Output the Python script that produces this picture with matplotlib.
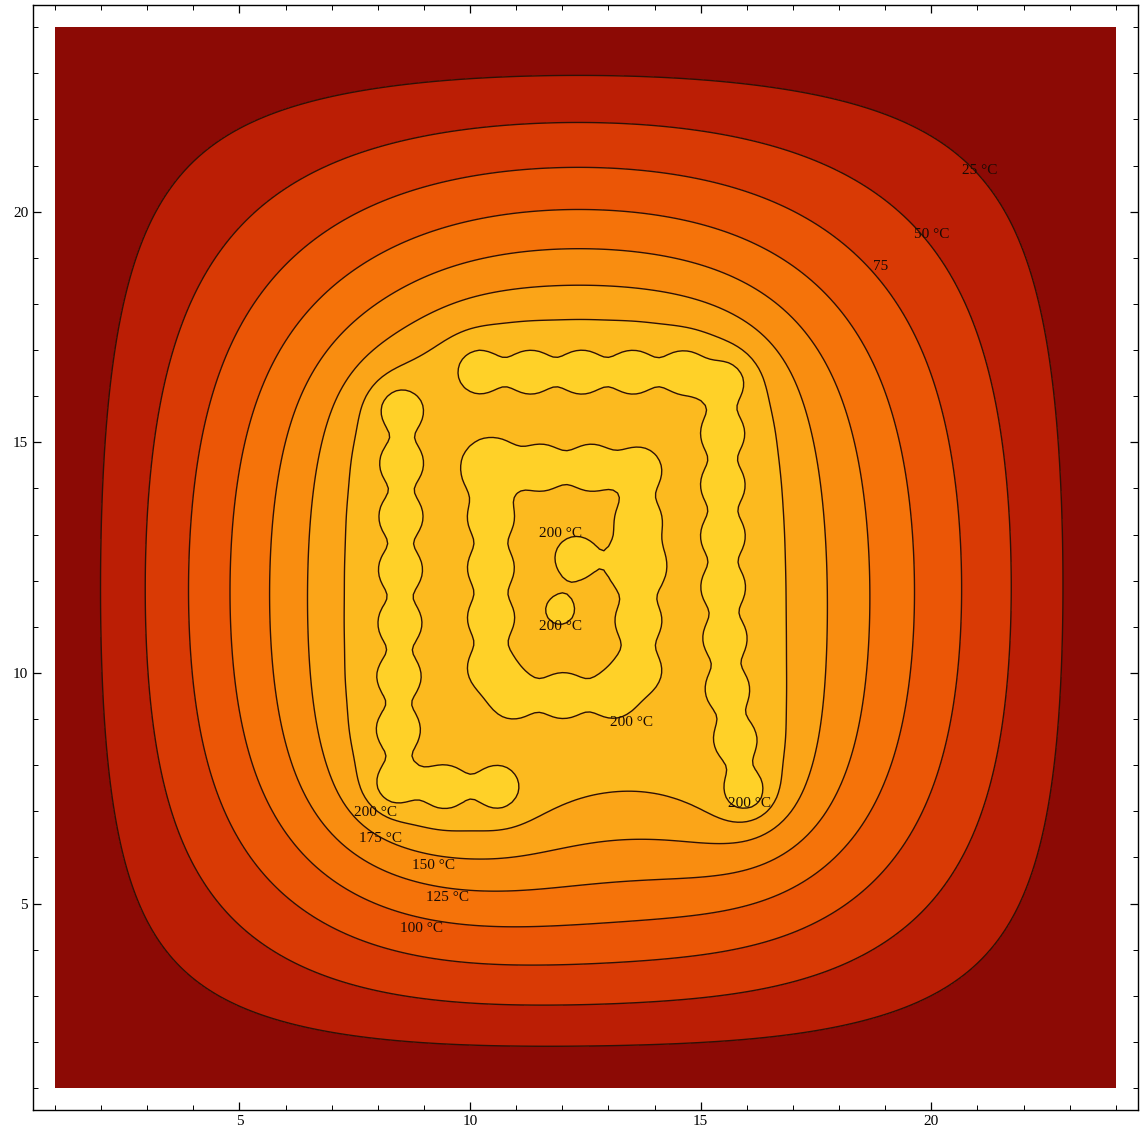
import numpy as np
import matplotlib
matplotlib.use("Agg")
import matplotlib.pyplot as plt

# heater wire centre lines (plot units)
wire_outer_a = [(10.2, 16.55), (15.5, 16.55), (15.5, 12.0), (15.6, 9.5), (15.95, 7.45)]
wire_outer_b = [(8.5, 15.7), (8.45, 11.0), (8.4, 7.5), (10.6, 7.5)]
wire_ring = [(10.45, 14.45), (13.65, 14.45), (13.65, 9.5), (10.45, 9.5), (10.45, 14.45)]
wire_hook = [(13.6, 12.45), (12.3, 12.5)]
wire_dot = [(11.95, 11.36)]
wires = [wire_outer_a, wire_outer_b, wire_ring, wire_hook, wire_dot]
wire_peak = [1.0, 1.0, 1.0, 0.85, 0.55]

levels = [25, 50, 75, 100, 125, 150, 175, 200]
band_colors = ["#8c0a05", "#bb1e05", "#d93a05", "#eb5606", "#f5730a",
               "#f98d10", "#fba518", "#fcba1f", "#ffd128"]

# labels on the contours: (text, x, y)
labels = [("25 °C", 21.05, 20.9), ("50 °C", 20.0, 19.5), ("75", 18.9, 18.8),
          ("100 °C", 8.95, 4.45), ("125 °C", 9.5, 5.14), ("150 °C", 9.2, 5.83),
          ("175 °C", 8.05, 6.42), ("200 °C", 7.95, 6.98), ("200 °C", 11.95, 13.03),
          ("200 °C", 11.95, 11.0), ("200 °C", 13.5, 8.93), ("200 °C", 16.05, 7.16)]

t_base = 207.0    # far field as if the wires sat at this temperature
t_knee = 170.0    # above this the plateau levels off ...
t_cap = 193.0     # ... towards this
t_wire = 23.0     # extra heat right on the wire
r_core = 0.35
sigma = 0.36
step = 1.1

n = 231
xs = np.linspace(1, 24, n)
X, Y = np.meshgrid(xs, xs)


def sample(path):
    p = np.array(path, float)
    if len(p) == 1:
        return p
    seg = np.hypot(*np.diff(p, axis=0).T)
    s = np.concatenate([[0], np.cumsum(seg)])
    k = max(int(round(s[-1] / step)), 1)
    t = np.linspace(0, s[-1], k + 1)
    return np.column_stack([np.interp(t, s, p[:, 0]), np.interp(t, s, p[:, 1])])


core = np.zeros(X.shape, bool)
bump = np.zeros(X.shape)
for path, peak in zip(wires, wire_peak):
    for px, py in sample(path):
        r2 = (X - px) ** 2 + (Y - py) ** 2
        core |= r2 <= r_core ** 2
        bump += peak * np.exp(-r2 / (2 * sigma ** 2))

# laplace, 0 on the plate edge, 1 on the wire (red-black SOR)
H = np.where(core, 1.0, 0.0)
ii, jj = np.meshgrid(np.arange(n), np.arange(n), indexing="ij")
free = ~core
free[0, :] = free[-1, :] = free[:, 0] = free[:, -1] = False
red = free & ((ii + jj) % 2 == 0)
black = free & ((ii + jj) % 2 == 1)
w = 2 / (1 + np.sin(np.pi / (n - 1)))
avg = np.zeros_like(H)
for it in range(1500):
    for m in (red, black):
        avg[1:-1, 1:-1] = 0.25 * (H[:-2, 1:-1] + H[2:, 1:-1] + H[1:-1, :-2] + H[1:-1, 2:])
        H[m] += w * (avg[m] - H[m])

v = H * t_base
span = t_cap - t_knee
plateau = np.where(v < t_knee, v, t_knee + span * np.tanh((v - t_knee) / span))
T = plateau + H * t_wire * bump

fig = plt.figure(figsize=(11.41, 11.38), dpi=100)
ax = fig.add_axes([33 / 1141, 28 / 1138, 1105 / 1141, 1105 / 1138])
ax.contourf(X, Y, T, levels=[-1] + levels + [1000], colors=band_colors)
ax.contour(X, Y, T, levels=levels, colors="#2e1006", linewidths=1.0)
for txt, lx, ly in labels:
    ax.text(lx, ly, txt, ha="center", va="center", fontsize=11,
            family="Liberation Serif", color="#1a0a04")

ax.set_xlim(0.523, 24.48)
ax.set_ylim(0.523, 24.48)
ax.set_xticks([5, 10, 15, 20])
ax.set_yticks([5, 10, 15, 20])
ax.set_xticks(range(1, 25), minor=True)
ax.set_yticks(range(1, 25), minor=True)
ax.tick_params(which="both", direction="in", top=True, right=True, labelsize=11)
ax.tick_params(which="major", length=6, width=0.9)
ax.tick_params(which="minor", length=3.5, width=0.7)
for lab in ax.get_xticklabels() + ax.get_yticklabels():
    lab.set_family("Liberation Serif")
for sp in ax.spines.values():
    sp.set_linewidth(1.0)

fig.savefig("out.png", dpi=100)
